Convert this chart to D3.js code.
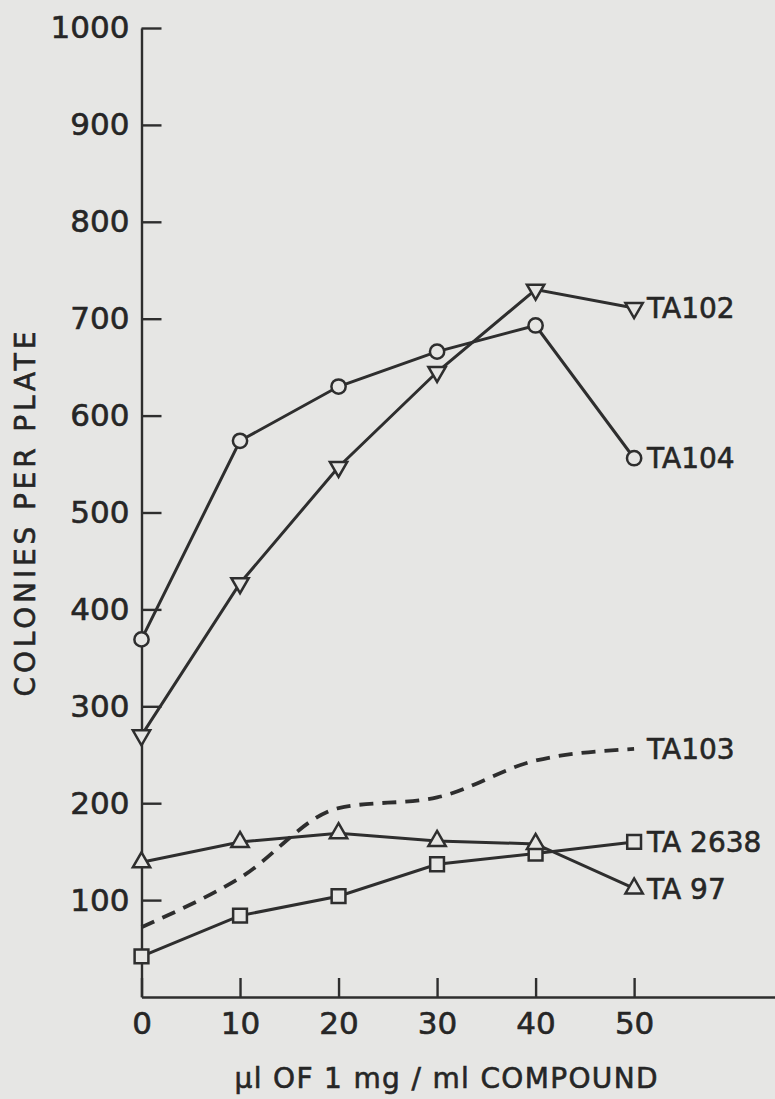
<!DOCTYPE html>
<html lang="en">
<head>
<meta charset="utf-8">
<title>Colonies per plate</title>
<script src="https://cdn.jsdelivr.net/npm/d3@7/dist/d3.min.js"></script>
<style>
  body { margin: 0; background: #e6e6e4; }
  svg { display: block; }
  text { font-family: "DejaVu Sans", sans-serif; fill: #262626; stroke: #262626; stroke-width: 0.6px; }
</style>
</head>
<body>
<script>
// dose in ul of 1 mg/ml compound
var doses = [0, 10, 20, 30, 40, 50];

// colonies per plate
var ta102 = [270, 427, 547, 645, 730, 711];
var ta104 = [369, 574, 630, 666, 693, 556];
var ta103 = [72, 123, 195, 206, 244, 256];
var ta2638 = [42, 84, 104, 137, 148, 160];
var ta97 = [139, 160, 169, 161, 158, 112];

var yTicks = [100, 200, 300, 400, 500, 600, 700, 800, 900, 1000];
var xTicks = [0, 10, 20, 30, 40, 50];

var series = [
  { name: "TA102", values: ta102, marker: "down", dashed: false },
  { name: "TA104", values: ta104, marker: "circle", dashed: false },
  { name: "TA103", values: ta103, marker: null, dashed: true },
  { name: "TA 2638", values: ta2638, marker: "square", dashed: false },
  { name: "TA 97", values: ta97, marker: "up", dashed: false }
];

var W = 775, H = 1099;
var ink = "#2e2e2e";
var paper = "#e6e6e4";

var svg = d3.select("body").append("svg").attr("width", W).attr("height", H);

var x = d3.scaleLinear().domain([0, 64.3]).range([141.5, 775]);
var y = d3.scaleLinear().domain([0, 1000]).range([997, 28]);

// axes
var yAxis = d3.axisLeft(y).tickValues(yTicks).tickFormat(d3.format("d"))
  .tickSizeInner(-20).tickSizeOuter(0).tickPadding(12);
var gy = svg.append("g").attr("transform", "translate(" + x(0) + ",0)").call(yAxis);

var xAxis = d3.axisBottom(x).tickValues(xTicks).tickFormat(d3.format("d"))
  .tickSizeInner(-19).tickSizeOuter(0).tickPadding(15);
var gx = svg.append("g").attr("transform", "translate(0," + y(0) + ")").call(xAxis);

[gy, gx].forEach(function(g) {
  g.select(".domain").attr("stroke", ink).attr("stroke-width", 2.4);
  g.selectAll(".tick line").attr("stroke", ink).attr("stroke-width", 2.4);
  g.selectAll(".tick text").style("font-size", "31px")
    .attr("fill", "#262626").attr("stroke", "#262626").attr("stroke-width", 0.6)
    .style("font-family", "'DejaVu Sans', sans-serif");
});

// axis titles
svg.append("text")
  .attr("transform", "translate(35,514) rotate(-90)")
  .attr("text-anchor", "middle")
  .attr("textLength", 365).attr("lengthAdjust", "spacing")
  .style("font-size", "28px")
  .text("COLONIES PER PLATE");

svg.append("text")
  .attr("x", 446).attr("y", 1088)
  .attr("text-anchor", "middle")
  .attr("textLength", 423).attr("lengthAdjust", "spacing")
  .style("font-size", "28px")
  .text("\u03bcl OF 1 mg / ml COMPOUND");

// lines
var line = d3.line().x(function(d) { return x(d[0]); }).y(function(d) { return y(d[1]); });
var curved = d3.line().curve(d3.curveMonotoneX)
  .x(function(d) { return x(d[0]); }).y(function(d) { return y(d[1]); });

series.forEach(function(s) {
  var pts = doses.map(function(d, i) { return [d, s.values[i]]; });
  svg.append("path")
    .attr("d", s.dashed ? curved(pts) : line(pts))
    .attr("fill", "none")
    .attr("stroke", ink)
    .attr("stroke-width", s.dashed ? 3.8 : 3)
    .attr("stroke-dasharray", s.dashed ? "14,9" : null);
});

// markers
var shapes = {
  circle: d3.symbol().type(d3.symbolCircle).size(160),
  square: d3.symbol().type(d3.symbolSquare).size(190),
  up: d3.symbol().type(d3.symbolTriangle).size(130),
  down: d3.symbol().type(d3.symbolTriangle).size(130)
};

series.forEach(function(s) {
  if (!s.marker) return;
  svg.append("g").selectAll("path").data(doses).enter().append("path")
    .attr("d", shapes[s.marker]())
    .attr("transform", function(d, i) {
      var t = "translate(" + x(d) + "," + y(s.values[i]) + ")";
      return s.marker === "down" ? t + " rotate(180)" : t;
    })
    .attr("fill", paper)
    .attr("stroke", ink)
    .attr("stroke-width", 2.5);
});

// series labels at the end of each line
series.forEach(function(s) {
  svg.append("text")
    .attr("x", x(50) + 13)
    .attr("y", y(s.values[s.values.length - 1]))
    .attr("dy", "0.36em")
    .style("font-size", "28px")
    .attr("stroke-width", 0.9)
    .text(s.name);
});
</script>
</body>
</html>
